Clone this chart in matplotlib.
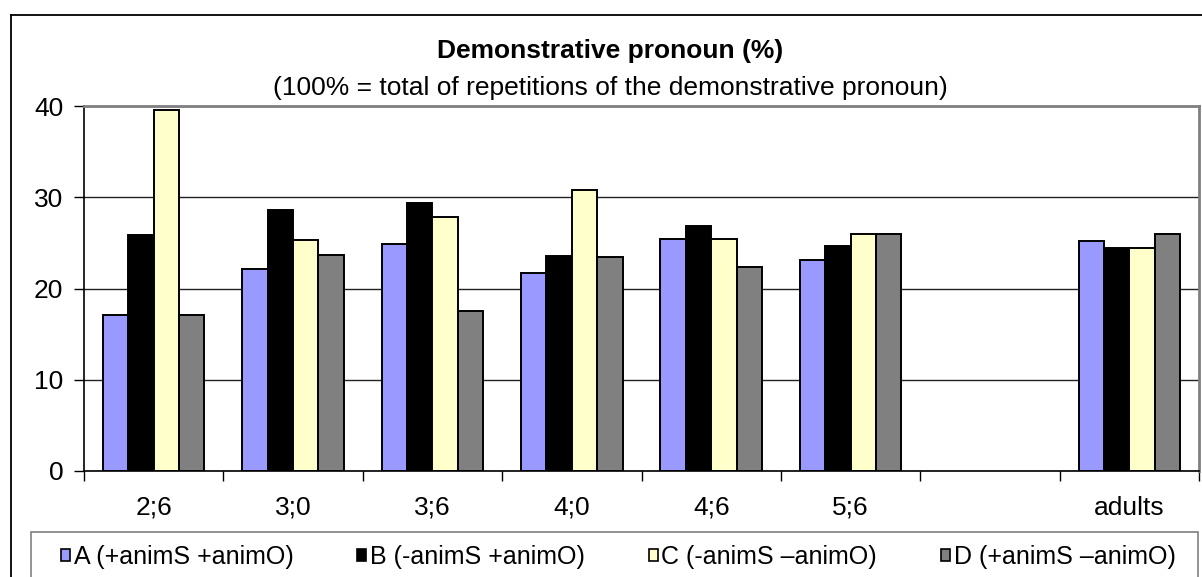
import matplotlib
matplotlib.use("Agg")
import matplotlib.pyplot as plt
import numpy as np
from matplotlib.patches import Patch, Rectangle
from matplotlib.lines import Line2D

plt.rcParams['font.family'] = ['Liberation Sans', 'DejaVu Sans']

categories = ["2;6", "3;0", "3;6", "4;0", "4;6", "5;6", "", "adults"]
series_names = ["A (+animS +animO)", "B (-animS +animO)",
                "C (-animS \u2013animO)", "D (+animS \u2013animO)"]
A = [17.1, 22.1, 24.9, 21.7, 25.4, 23.1, np.nan, 25.2]
B = [25.9, 28.6, 29.4, 23.6, 26.9, 24.7, np.nan, 24.4]
C = [39.6, 25.3, 27.8, 30.8, 25.4, 26.0, np.nan, 24.4]
D = [17.1, 23.7, 17.5, 23.5, 22.4, 26.0, np.nan, 26.0]
series = [A, B, C, D]
colors = ["#9999FF", "#000000", "#FFFFCC", "#808080"]
yticks = [0, 10, 20, 30, 40]

W, H = 1202, 577
fig = plt.figure(figsize=(W / 100, H / 100), dpi=100)
fig.patch.set_facecolor("white")

def fx(px):
    return px / W

def fy(py):
    return 1 - py / H

ax = fig.add_axes([fx(84), fy(471), fx(1199) - fx(84), fy(106) - fy(471)])

x = np.arange(len(categories))
bw = 0.182
for i, (vals, col) in enumerate(zip(series, colors)):
    v = np.array(vals, dtype=float)
    m = ~np.isnan(v)
    ax.bar(x[m] + (i - 1.5) * bw, v[m], width=bw, color=col,
           edgecolor="black", linewidth=1.4, zorder=3)

ax.set_xlim(-0.5, len(categories) - 0.5)
ax.set_ylim(0, 40)
ax.set_yticks(yticks)
ax.set_yticklabels([str(t) for t in yticks])
ax.yaxis.grid(True, color="#222222", linewidth=1.0, zorder=0)
ax.set_axisbelow(True)

ax.set_xticks(np.arange(-0.5, len(categories), 1.0))
ax.set_xticklabels([])
ax.set_xticks(x, minor=True)
ax.set_xticklabels(categories, minor=True)
ax.tick_params(axis="x", which="major", direction="out", length=7, width=1, color="black")
ax.tick_params(axis="x", which="minor", length=0, pad=18, labelsize=19)
ax.tick_params(axis="y", direction="out", length=7, width=1, pad=8, labelsize=19)

ax.spines["left"].set_color("black")
ax.spines["bottom"].set_color("black")
ax.spines["left"].set_linewidth(1.2)
ax.spines["bottom"].set_linewidth(1.2)
for s in ["top", "right"]:
    ax.spines[s].set_color("#808080")
    ax.spines[s].set_linewidth(2.0)

fig.text(fx(610), fy(51), "Demonstrative pronoun (%)", ha="center", va="center",
         fontsize=19, fontweight="bold")
fig.text(fx(610), fy(88), "(100% = total of repetitions of the demonstrative pronoun)",
         ha="center", va="center", fontsize=19)

# legend
handles = [Patch(facecolor=c, edgecolor="black", linewidth=1.2) for c in colors]
leg = fig.legend(handles, series_names, loc="center left",
                 bbox_to_anchor=(fx(61), fy(557)), ncol=4, frameon=False,
                 fontsize=18, handlelength=0.36, handleheight=0.36,
                 handletextpad=0.15, columnspacing=2.55, borderpad=0,
                 borderaxespad=0)
fig.add_artist(Rectangle((fx(31), fy(620)), fx(1198) - fx(31), fy(532) - fy(620),
                         transform=fig.transFigure, fill=False,
                         edgecolor="#808080", linewidth=1.2))

# outer chart frame
fig.add_artist(Line2D([fx(11), fx(1220)], [fy(15), fy(15)], transform=fig.transFigure,
                      color="black", linewidth=1.3))
fig.add_artist(Line2D([fx(11), fx(11)], [fy(15), fy(620)], transform=fig.transFigure,
                      color="black", linewidth=1.3))

fig.savefig("out.png", dpi=100)
